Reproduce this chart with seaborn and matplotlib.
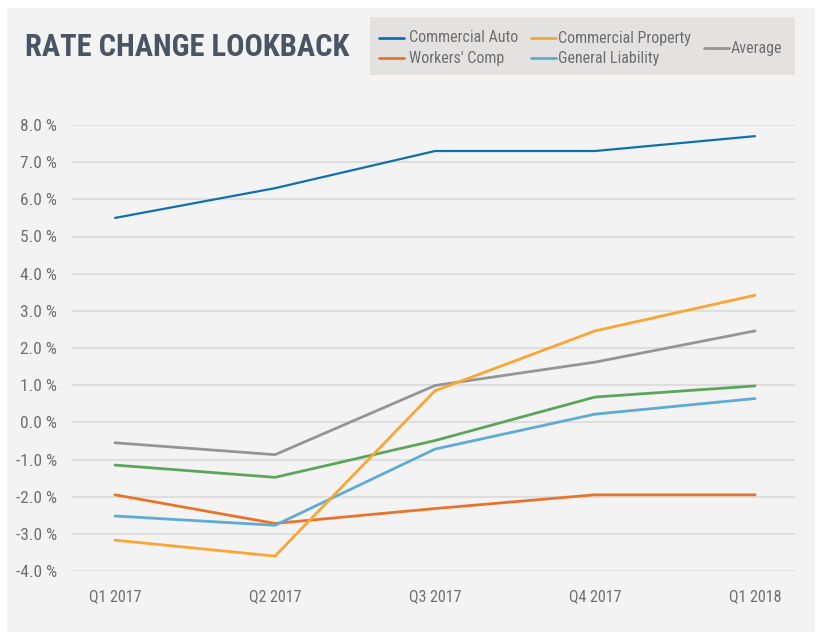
import matplotlib
matplotlib.use("Agg")
import matplotlib.pyplot as plt
import seaborn as sns
import pandas as pd
from matplotlib.patches import Rectangle
from matplotlib.lines import Line2D
from matplotlib import font_manager

quarters = ["Q1 2017", "Q2 2017", "Q3 2017", "Q4 2017", "Q1 2018"]
commercial_auto = [5.5, 6.3, 7.3, 7.3, 7.7]
workers_comp = [-1.95, -2.72, -2.32, -1.95, -1.95]
commercial_property = [-3.17, -3.6, 0.85, 2.46, 3.42]
general_liability = [-2.52, -2.77, -0.72, 0.22, 0.64]
average = [-0.55, -0.87, 0.99, 1.62, 2.46]
other_line = [-1.15, -1.48, -0.49, 0.68, 0.98]
y_ticks = [-4, -3, -2, -1, 0, 1, 2, 3, 4, 5, 6, 7, 8]

series = {
    "Commercial Auto": commercial_auto,
    "Workers' Comp": workers_comp,
    "Commercial Property": commercial_property,
    "General Liability": general_liability,
    "Other": other_line,
    "Average": average,
}
colors = {
    "Commercial Auto": "#0f71ab",
    "Workers' Comp": "#e8742c",
    "Commercial Property": "#f9a634",
    "General Liability": "#5eabd5",
    "Other": "#5ba65a",
    "Average": "#959595",
}
widths = {k: 2.0 for k in series}
widths["Commercial Auto"] = 1.6

rows = []
for name, vals in series.items():
    for i, v in enumerate(vals):
        rows.append({"quarter": i, "value": v, "series": name})
df = pd.DataFrame(rows)

sns.set_theme(style="white")
avail = {f.name for f in font_manager.fontManager.ttflist}
narrow = [f for f in ["Roboto Condensed", "Liberation Sans Narrow", "DejaVu Sans Condensed"] if f in avail]
fam = narrow + ["DejaVu Sans"]
plt.rcParams["font.family"] = fam

fig = plt.figure(figsize=(8.22, 6.34), dpi=100)
fig.patch.set_facecolor("white")
fig.patches.append(Rectangle((7 / 822, 1 - 632 / 634), 808 / 822, 624 / 634,
                             transform=fig.transFigure, facecolor="#f3f3f3",
                             edgecolor="none", zorder=-3))
fig.patches.append(Rectangle((370 / 822, 1 - 75 / 634), 425 / 822, 58 / 634,
                             transform=fig.transFigure, facecolor="#e3e2e0",
                             edgecolor="none", zorder=-2))

ax = fig.add_axes([72 / 822, 1 - 571 / 634, 723 / 822, 446 / 634])
ax.set_facecolor("none")
ax.set_zorder(1)

order_draw = ["Commercial Auto", "Average", "Other", "Workers' Comp",
              "General Liability", "Commercial Property"]
for name in order_draw:
    sub = df[df["series"] == name]
    sns.lineplot(data=sub, x="quarter", y="value", ax=ax, color=colors[name],
                 linewidth=widths[name], legend=False, clip_on=False)

ax.set_xlim(-43 / 160, 680 / 160)
ax.set_ylim(-4, 8)
ax.set_yticks(y_ticks)
ax.set_yticklabels([f"{t:.1f} %" for t in y_ticks])
ax.set_xticks(range(len(quarters)))
ax.set_xticklabels(quarters)
ax.grid(axis="y", color="#dcdcdc", linewidth=1.3)
ax.set_axisbelow(True)
for s in ax.spines.values():
    s.set_visible(False)
ax.tick_params(axis="y", length=0, pad=11, labelsize=12.5, labelcolor="#6d6f73")
ax.tick_params(axis="x", length=0, pad=13, labelsize=11.5, labelcolor="#6d6f73")
ax.set_xlabel("")
ax.set_ylabel("")

fig.text(25 / 822, 1 - 47 / 634, "RATE CHANGE LOOKBACK", fontsize=22,
         fontweight="bold", color="#4a5462", va="center", ha="left")

leg = [
    ("Commercial Auto", 379, 38, 409),
    ("Workers' Comp", 379, 58, 409),
    ("Commercial Property", 531, 38, 558),
    ("General Liability", 531, 58, 558),
    ("Average", 704, 48, 731),
]
for name, x0, yy, xt in leg:
    yf = 1 - yy / 634
    fig.lines.append(Line2D([x0 / 822, (x0 + 25) / 822], [yf, yf],
                            transform=fig.transFigure, color=colors[name],
                            linewidth=2.0, zorder=3))
    fig.text(xt / 822, yf, name, fontsize=11.5, color="#6d6f73",
             va="center", ha="left", zorder=3)

fig.savefig("out.png", dpi=100, facecolor="white")
